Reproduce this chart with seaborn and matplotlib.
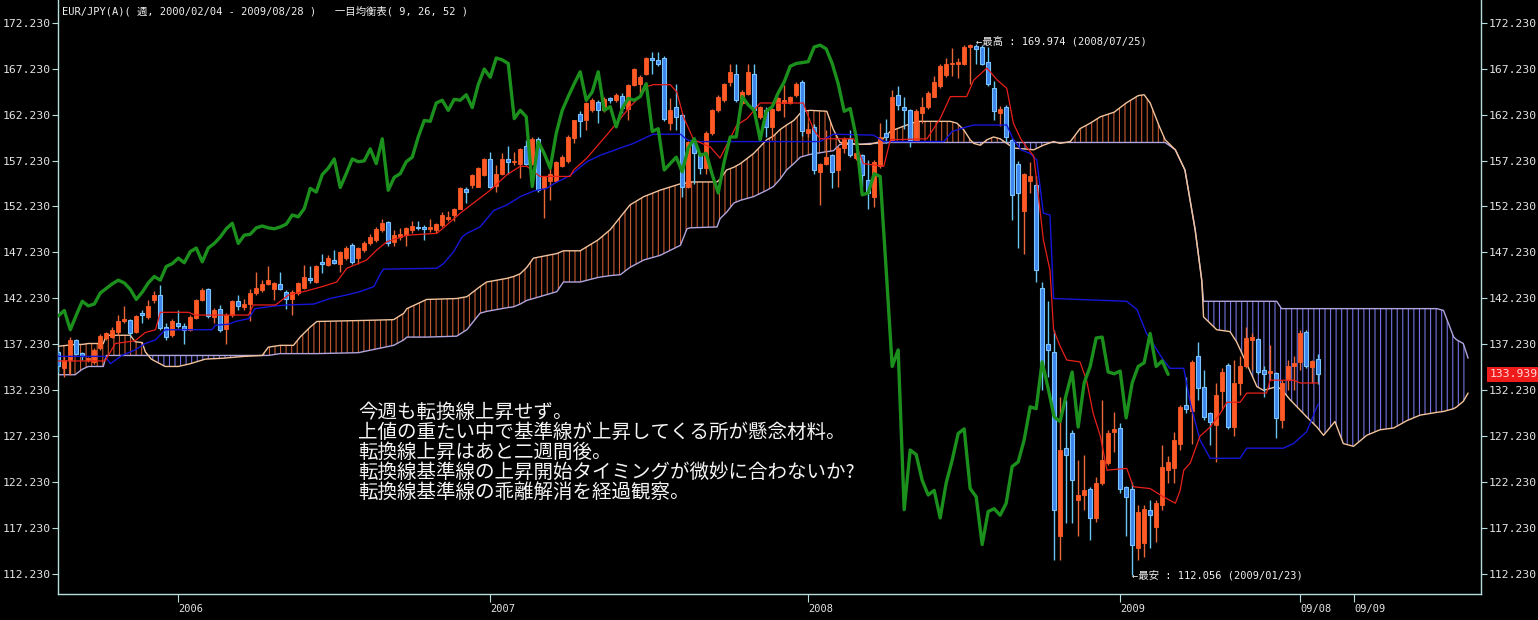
import numpy as np
import pandas as pd
import matplotlib
matplotlib.use("Agg")
import matplotlib.pyplot as plt
import matplotlib.transforms as mtransforms
import seaborn as sns

# weekly EUR/JPY candles, week 0 = 2005/08/19 ... week 210 = 2009/08/28
opens = [
    136.4, 134.6, 135.5, 137.7, 136.3, 135.5, 135.3, 136.8, 137.9, 138.0,
    138.6, 139.7, 139.9, 138.5, 140.6, 140.2, 142.0, 142.6, 139.1, 138.2,
    139.5, 139.2, 138.8, 140.1, 142.0, 143.2, 140.2, 141.1, 138.9, 140.4,
    141.9, 141.3, 141.6, 142.8, 143.1, 143.8, 143.2, 143.8, 142.9, 142.1,
    142.8, 143.3, 144.4, 144.0, 146.2, 145.9, 146.4, 146.0, 146.6, 148.0,
    146.6, 147.5, 148.2, 148.6, 149.7, 150.5, 148.4, 148.9, 149.1, 149.7,
    150.0, 150.0, 149.8, 149.7, 150.2, 150.9, 151.3, 152.0, 154.1, 154.6,
    154.4, 155.7, 157.4, 154.5, 155.8, 157.4, 157.1, 156.9, 158.8, 156.9,
    159.6, 154.2, 155.0, 155.0, 156.6, 157.2, 159.7, 162.3, 161.6, 162.7,
    163.6, 162.7, 164.0, 163.8, 164.3, 162.9, 165.5, 165.6, 166.7, 168.4,
    168.2, 168.4, 161.3, 163.1, 162.2, 154.4, 159.3, 158.0, 156.4, 160.2,
    162.7, 163.8, 165.8, 166.7, 163.5, 164.5, 166.7, 162.0, 162.7, 160.9,
    162.7, 163.5, 163.5, 164.4, 165.8, 160.2, 160.9, 156.0, 156.9, 157.8,
    156.2, 158.6, 159.6, 157.5, 157.8, 155.1, 153.3, 156.6, 160.2, 159.5,
    164.4, 163.1, 162.7, 159.5, 162.4, 163.1, 164.2, 165.3, 166.5, 167.7,
    167.8, 167.8, 169.6, 169.7, 169.6, 168.0, 165.1, 162.4, 163.1, 159.5,
    156.9, 151.7, 155.0, 154.6, 143.3, 137.3, 136.4, 116.3, 125.9, 127.5,
    120.3, 120.8, 121.5, 118.3, 122.1, 124.3, 127.7, 128.1, 121.7, 121.5,
    115.0, 115.6, 119.2, 117.3, 119.7, 123.5, 123.7, 126.4, 130.6, 129.9,
    135.9, 132.6, 129.7, 128.4, 132.1, 135.0, 128.2, 133.0, 134.8, 137.7,
    137.8, 134.4, 134.1, 134.1, 129.0, 133.3, 134.9, 135.3, 138.6, 134.7,
    135.6,
]
highs = [
    136.6, 135.9, 138.0, 137.8, 136.4, 135.8, 136.8, 138.3, 138.6, 139.1,
    140.4, 141.4, 140.0, 140.4, 140.9, 142.0, 143.0, 143.7, 139.5, 140.0,
    140.9, 139.5, 140.4, 142.2, 143.4, 143.3, 141.2, 141.5, 140.6, 142.0,
    142.6, 142.2, 143.2, 145.1, 144.2, 145.7, 144.0, 145.1, 143.1, 143.1,
    144.0, 145.8, 145.7, 145.9, 147.1, 146.9, 147.5, 147.4, 147.9, 148.2,
    147.8, 148.5, 149.2, 150.0, 150.9, 150.6, 149.7, 149.9, 150.0, 150.6,
    150.6, 150.2, 150.9, 150.4, 151.6, 151.7, 152.1, 154.4, 154.4, 155.8,
    156.5, 157.5, 158.2, 156.8, 158.0, 158.8, 158.2, 158.6, 159.5, 159.8,
    159.8, 155.6, 156.4, 157.2, 157.8, 160.0, 161.7, 162.6, 163.6, 164.0,
    163.8, 164.1, 164.2, 164.6, 164.6, 165.6, 167.3, 166.5, 168.5, 169.1,
    169.1, 168.6, 164.0, 165.6, 162.4, 159.4, 159.8, 158.1, 160.4, 162.9,
    164.4, 165.7, 167.8, 167.8, 164.9, 167.8, 167.8, 163.2, 163.1, 163.0,
    164.2, 165.5, 164.3, 165.8, 166.0, 161.3, 161.2, 157.0, 160.6, 157.9,
    158.8, 159.8, 160.6, 158.2, 157.9, 157.3, 157.3, 161.3, 161.8, 164.9,
    165.3, 164.2, 162.8, 162.8, 164.2, 164.8, 166.4, 167.8, 168.4, 169.5,
    168.4, 169.8, 169.9, 169.974, 169.8, 169.6, 165.9, 163.2, 163.3, 159.7,
    157.2, 155.9, 157.1, 155.5, 144.0, 141.9, 138.8, 131.5, 131.2, 127.9,
    124.6, 125.2, 121.7, 122.8, 131.2, 127.9, 129.8, 128.6, 121.8, 122.2,
    119.7, 119.7, 120.3, 120.3, 126.2, 125.0, 127.7, 130.6, 133.7, 135.5,
    137.5, 134.4, 129.8, 133.0, 134.6, 135.2, 135.5, 135.9, 139.1, 138.4,
    137.9, 134.8, 137.1, 134.2, 133.3, 135.5, 135.9, 138.8, 138.8, 135.5,
    136.2,
]
lows = [
    134.2, 133.7, 133.9, 136.0, 135.5, 135.3, 135.1, 136.6, 137.7, 137.9,
    138.2, 139.5, 138.0, 138.4, 139.5, 140.0, 141.7, 138.8, 137.7, 138.0,
    139.0, 137.3, 138.7, 140.0, 141.9, 140.1, 139.5, 138.6, 137.3, 140.2,
    141.0, 140.9, 139.7, 142.6, 142.9, 143.7, 142.0, 143.1, 141.1, 140.4,
    142.6, 143.2, 143.9, 143.9, 145.0, 145.7, 146.0, 145.1, 146.4, 146.0,
    146.0, 147.3, 148.0, 148.4, 149.5, 147.9, 147.9, 148.6, 147.9, 149.3,
    149.7, 148.6, 149.5, 149.3, 150.0, 150.6, 150.6, 151.9, 152.6, 154.2,
    154.3, 155.5, 154.2, 153.8, 155.7, 155.8, 156.8, 155.3, 156.7, 156.8,
    153.8, 151.0, 152.9, 154.9, 156.5, 157.0, 159.1, 159.8, 160.6, 162.5,
    161.3, 162.5, 163.5, 163.6, 162.4, 161.6, 165.3, 164.6, 166.5, 166.7,
    167.5, 161.5, 160.6, 160.6, 153.3, 154.2, 154.7, 155.8, 155.8, 160.0,
    162.5, 163.6, 165.3, 163.6, 163.3, 164.4, 162.4, 161.8, 159.8, 159.5,
    162.6, 162.0, 163.4, 164.2, 159.9, 159.8, 155.8, 152.4, 156.8, 154.2,
    154.4, 158.0, 157.6, 157.3, 154.4, 152.0, 152.2, 156.4, 159.1, 159.3,
    162.7, 160.7, 158.7, 159.3, 161.3, 162.9, 164.1, 165.1, 166.3, 166.4,
    166.2, 167.6, 165.6, 167.7, 167.6, 165.4, 161.6, 161.0, 159.3, 150.8,
    147.7, 147.1, 153.7, 144.0, 132.2, 133.7, 113.7, 113.7, 117.7, 117.7,
    116.3, 119.2, 115.9, 117.9, 121.9, 124.1, 125.5, 121.0, 116.3, 112.056,
    113.7, 114.0, 115.0, 115.7, 119.2, 122.1, 122.1, 125.7, 129.7, 126.4,
    131.1, 129.0, 126.2, 124.4, 130.1, 128.0, 127.2, 131.7, 134.6, 134.4,
    134.0, 131.5, 133.3, 127.0, 128.1, 132.2, 132.2, 134.4, 134.6, 133.0,
    132.9,
]
closes = [
    134.8, 135.5, 137.7, 136.2, 135.9, 135.7, 136.6, 138.1, 138.4, 138.8,
    139.8, 140.0, 138.4, 140.3, 140.4, 141.4, 142.6, 139.0, 138.0, 139.8,
    139.2, 138.8, 140.2, 142.0, 143.1, 140.3, 140.9, 138.8, 140.4, 141.9,
    141.4, 141.6, 142.8, 143.3, 143.8, 144.2, 143.9, 143.2, 142.1, 142.9,
    143.9, 144.6, 144.2, 145.7, 146.0, 146.6, 146.1, 147.3, 147.7, 146.2,
    147.7, 148.2, 148.9, 149.8, 150.4, 148.2, 149.1, 149.2, 149.9, 150.1,
    149.9, 149.8, 150.0, 150.3, 151.3, 151.1, 152.0, 154.2, 153.8, 155.7,
    156.4, 157.4, 154.3, 155.8, 157.4, 157.1, 157.2, 158.5, 156.9, 159.6,
    154.0, 155.4, 155.8, 157.1, 157.6, 159.8, 161.6, 161.5, 163.5, 163.8,
    162.7, 163.9, 163.8, 164.4, 163.0, 165.5, 167.2, 166.3, 168.4, 168.2,
    167.8, 161.8, 162.7, 162.0, 154.4, 159.3, 158.0, 156.4, 160.2, 162.7,
    164.2, 165.6, 166.9, 163.8, 164.7, 166.9, 162.7, 163.1, 160.9, 162.9,
    164.0, 163.8, 164.2, 165.6, 160.4, 160.7, 156.2, 156.9, 157.6, 156.0,
    158.6, 159.6, 157.8, 158.0, 155.7, 153.7, 157.1, 159.8, 159.8, 164.2,
    163.3, 162.7, 159.5, 162.6, 163.1, 164.6, 165.8, 167.5, 167.8, 167.9,
    168.0, 169.6, 169.8, 169.4, 167.8, 165.6, 162.6, 162.9, 159.8, 153.5,
    153.7, 155.8, 155.5, 145.3, 134.8, 136.6, 119.2, 125.7, 125.2, 122.4,
    120.8, 121.3, 118.3, 122.1, 124.6, 127.5, 128.0, 121.5, 120.6, 115.4,
    119.0, 119.3, 118.6, 119.9, 123.9, 124.4, 126.8, 130.4, 130.2, 135.3,
    132.4, 129.3, 128.8, 131.7, 134.2, 128.2, 133.0, 134.8, 137.9, 138.0,
    134.2, 134.0, 134.3, 129.2, 133.0, 134.8, 135.2, 138.4, 134.8, 135.4,
    133.939,
]

# 転換線 (9)
tenkan_week = [0, 7.8, 9.5, 12.8, 14.5, 16.2, 17, 21.7, 22.8, 31.7, 32.5, 36.2, 38.4, 41.2, 44,
               46.4, 48.1, 51.4, 53.1, 54.8, 58.1, 63.1, 64.2, 67, 69.2, 72, 74.8, 77, 78.1,
               80.3, 85.3, 85.9, 88.1, 91.4, 93.7, 95.3, 97, 98.1, 99.2, 102, 103.1, 104.2,
               105.9, 108.7, 110.3, 111.4, 113.1, 114.8, 117, 124.2, 124.8, 125.9, 127, 132.6,
               134.2, 137.6, 138.7, 144.8, 147, 148.7, 151.4, 152.6, 154.8, 156.5, 158.1, 159.2,
               160.5, 162.6, 163.7, 164.2, 165.3, 165.9, 167, 168.1, 170.3, 171.4, 172.5, 173.7,
               174.8, 178.1, 179.2, 182, 184.2, 186.2, 187, 187.6, 188.7, 190.3, 192, 193.7,
               194.8, 197, 198.1, 201.4, 202, 205.9, 207, 210]
tenkan_val = [135.4, 135.4, 137.3, 137.6, 138.5, 138.8, 140.7, 140.7, 140.4, 140.4, 141.5, 141.5,
              142.6, 143.0, 143.5, 144.0, 145.5, 146.4, 147.5, 148.4, 149.1, 149.3, 149.9, 151.5,
              152.6, 154.0, 155.7, 156.6, 156.6, 155.5, 155.5, 156.2, 157.5, 160.0, 161.8, 163.1,
              164.2, 165.3, 165.5, 165.5, 164.7, 162.0, 159.5, 158.7, 157.5, 158.9, 161.1, 161.8,
              163.5, 163.5, 162.4, 160.6, 159.6, 159.6, 156.9, 156.6, 159.5, 159.6, 161.8, 164.2,
              164.2, 166.0, 167.3, 166.0, 165.1, 161.3, 159.5, 157.7, 151.5, 148.6, 145.3, 138.8,
              137.0, 135.5, 135.3, 133.3, 129.7, 127.2, 123.5, 123.7, 121.7, 121.5, 120.6, 119.9,
              121.3, 123.5, 124.3, 127.2, 128.2, 129.7, 130.9, 130.9, 131.9, 131.9, 133.3, 133.3,
              133.0, 133.0]

# 基準線 (26)
kijun_week = [0, 7.8, 8.7, 10.6, 12.8, 14.5, 16.2, 17.8, 25.6, 26.2, 28.4, 29.5, 31.7, 32.8, 36.2,
              38.4, 42.6, 45.3, 48.1, 50.3, 52.6, 53.7, 54.2, 63.1, 64.2, 65.9, 67.3, 68.1, 70.3,
              72.6, 74.8, 77, 79.2, 81.4, 82.6, 85.3, 88.1, 90.3, 93.7, 95.9, 98.1, 99.2, 103.7,
              104.8, 105.9, 127, 129.2, 135.9, 137.6, 147.6, 149, 151.4, 152.6, 158.1, 159.2,
              160.5, 162, 163.1, 164.2, 165.3, 165.9, 178.1, 179.8, 181.4, 184.2, 185.3, 187.6,
              188.7, 190.3, 192, 197, 198.1, 204.2, 205.9, 208.1, 209.8, 210]
kijun_val = [135.9, 135.9, 135.1, 136.0, 136.6, 137.3, 137.7, 138.8, 138.8, 139.3, 139.4, 139.7,
             140.0, 141.1, 141.4, 141.5, 141.6, 142.2, 142.6, 142.95, 143.5, 144.9, 145.4, 145.5,
             146.0, 147.3, 148.9, 149.3, 150.0, 151.8, 152.4, 153.3, 153.9, 154.2, 154.7, 155.6,
             157.1, 157.8, 158.6, 159.1, 159.8, 160.1, 160.1, 159.5, 159.3, 159.3, 160.1, 160.0,
             159.3, 159.3, 160.4, 160.9, 161.1, 161.1, 159.5, 158.4, 158.0, 157.3, 151.5, 151.3,
             142.2, 141.9, 141.0, 138.4, 135.5, 134.6, 134.6, 130.8, 126.8, 124.8, 124.8, 125.9,
             125.9, 126.4, 127.7, 130.4, 130.7]

# 先行スパン1 / 2 (already shifted forward) on a shared week grid
span_week = [0, 2.8, 4, 5, 7.5, 8, 12, 12.8, 14, 14.5, 15.5, 17.8, 20, 22, 24.5, 27.5, 31, 34, 35,
             37, 39.2, 40.3, 42, 43.1, 50, 55.9, 57.6, 58.1, 61.4, 66.4, 68.1, 70.3, 71.4, 74.8,
             75.9, 77, 78.1, 79.2, 83.1, 84.2, 87, 90, 92, 93.7, 95.3, 97.6, 100.3, 103.7, 104.8,
             105.3, 109.8, 110.3, 111.4, 112.6, 113.7, 115.9, 118.1, 119.2, 120.3, 121.4, 122.6,
             123.7, 124.2, 125.3, 128.1, 129.2, 130.3, 133.7, 135.3, 137, 138.7, 139.8, 143.1,
             148.7, 149.8, 150.9, 152, 152.6, 153.7, 154.8, 155.9, 157, 158.1, 159.2, 162.6,
             164.2, 165.9, 167, 168.7, 170.3, 172, 173.7, 176, 178, 180, 181, 182, 183.5, 184.5,
             186.2, 187.8, 189.5, 190.6, 190.9, 193.1, 195.3, 196.4, 198.1, 199.8, 200.9, 203.1,
             203.9, 205.3, 208.1, 209.8, 210.9, 212.8, 214.2, 215.9, 218.1, 220.3, 222.6, 224.8,
             227, 229.8, 230.9, 232.6, 233.1, 234.2, 235]
span_a = [137.0, 137.2, 137.2, 137.3, 137.3, 138.2, 138.2, 137.5, 137.4, 136.4, 135.6, 134.8, 134.8,
          135.1, 135.6, 135.7, 135.9, 136.0, 136.9, 137.1, 137.1, 138.0, 139.1, 139.7, 139.8,
          139.9, 140.6, 141.1, 142.1, 142.2, 142.4, 143.5, 144.0, 144.4, 144.6, 144.9, 145.6,
          146.6, 147.1, 147.4, 147.4, 148.6, 149.7, 151.1, 152.4, 153.3, 154.0, 154.7, 154.8,
          154.9, 154.9, 155.2, 156.2, 156.5, 156.9, 158.0, 159.5, 159.9, 160.6, 161.1, 161.6,
          162.4, 162.6, 162.7, 162.6, 160.6, 159.2, 159.0, 159.0, 159.3, 160.4, 160.7, 161.5,
          161.5, 161.3, 160.6, 159.5, 159.1, 158.9, 159.5, 159.8, 159.6, 159.1, 158.6, 158.4,
          158.9, 159.3, 159.1, 159.3, 160.7, 161.3, 162.0, 162.5, 163.5, 164.3, 164.4, 163.5,
          161.0, 159.5, 158.4, 156.2, 149.7, 144.2, 140.2, 138.8, 138.6, 137.5, 135.1, 132.6,
          132.2, 132.6, 132.3, 131.2, 129.3, 128.2, 127.3, 128.8, 126.4, 126.1, 127.3, 127.9,
          128.1, 128.9, 129.5, 129.8, 129.9, 130.2, 130.4, 131.0, 131.9]
span_b = [133.9, 133.9, 134.5, 134.8, 134.8, 136.0, 136.0, 136.0, 136.0, 136.0, 136.0, 136.0, 136.0,
          136.0, 136.0, 136.0, 136.0, 136.0, 136.0, 136.2, 136.2, 136.2, 136.2, 136.2, 136.3,
          137.1, 137.7, 138.0, 138.0, 138.1, 138.8, 140.6, 140.8, 141.2, 141.3, 141.6, 142.0,
          142.2, 142.95, 144.0, 144.0, 144.5, 144.7, 144.8, 145.6, 146.4, 146.9, 148.0, 149.8,
          149.9, 150.0, 150.9, 151.6, 152.6, 152.9, 153.3, 154.0, 154.4, 155.2, 156.2, 156.9,
          157.6, 157.7, 157.9, 158.2, 158.3, 159.0, 159.0, 159.1, 159.1, 159.2, 159.2, 159.2,
          159.2, 159.2, 159.2, 159.2, 159.2, 159.2, 159.2, 159.2, 159.2, 159.2, 159.2, 159.2,
          159.2, 159.2, 159.2, 159.2, 159.2, 159.2, 159.2, 159.2, 159.2, 159.2, 159.2, 159.2,
          159.2, 159.2, 158.4, 156.2, 149.7, 144.2, 141.9, 141.9, 141.9, 141.9, 141.9, 141.9,
          141.9, 141.9, 141.1, 141.1, 141.1, 141.1, 141.1, 141.1, 141.1, 141.1, 141.1, 141.1,
          141.1, 141.1, 141.1, 141.1, 140.9, 138.0, 137.7, 137.3, 135.7]

CHIKOU_SHIFT = 25

tick_weeks = [20, 72, 125, 177, 207, 216]
tick_labels = ["2006", "2007", "2008", "2009", "09/08", "09/09"]
price_ticks = [112.23 + 5 * k for k in range(13)]

title = "EUR/JPY(A)( 週, 2000/02/04 - 2009/08/28 )   一目均衡表( 9, 26, 52 )"
memo = [
    "今週も転換線上昇せず。",
    "上値の重たい中で基準線が上昇してくる所が懸念材料。",
    "転換線上昇はあと二週間後。",
    "転換線基準線の上昇開始タイミングが微妙に合わないか?",
    "転換線基準線の乖離解消を経過観察。",
]

W, H = 1538, 620
MONO = ["DejaVu Sans Mono", "Noto Sans CJK JP"]


def main():
    sns.set_theme(style="dark", rc={"axes.facecolor": "black", "figure.facecolor": "black"})
    plt.rcParams["font.family"] = ["Noto Sans CJK JP", "DejaVu Sans"]
    plt.rcParams["hatch.linewidth"] = 0.8

    fig = plt.figure(figsize=(W / 100, H / 100), dpi=100)
    ax = fig.add_axes([58 / W, 26 / H, 1423 / W, 594 / H])
    ax.set_facecolor("black")
    ax.grid(False)

    # cloud
    a = np.array(span_a)
    b = np.array(span_b)
    ax.fill_between(span_week, a, b, where=a >= b, interpolate=True, facecolor="none",
                    edgecolor="#c65a30", hatch="|||", linewidth=0, zorder=1)
    ax.fill_between(span_week, a, b, where=a < b, interpolate=True, facecolor="none",
                    edgecolor="#7272e0", hatch="|||", linewidth=0, zorder=1)
    sns.lineplot(x=span_week, y=span_b, ax=ax, color="#b0a4dc", linewidth=1.0,
                 estimator=None, sort=False, zorder=2)
    sns.lineplot(x=span_week, y=span_a, ax=ax, color="#f2c39c", linewidth=1.0,
                 estimator=None, sort=False, zorder=2)

    # candles
    df = pd.DataFrame({"open": opens, "high": highs, "low": lows, "close": closes})
    df["week"] = np.arange(len(df))
    up = df[df["close"] >= df["open"]]
    dn = df[df["close"] < df["open"]]
    ax.vlines(up["week"], up["low"], up["high"], color="#e8683a", linewidth=1.0, zorder=3)
    ax.vlines(dn["week"], dn["low"], dn["high"], color="#68c6f0", linewidth=1.0, zorder=3)
    ax.bar(up["week"], up["close"] - up["open"], bottom=up["open"], width=0.7,
           color="#ff5a26", edgecolor="#ff5a26", linewidth=0.6, zorder=3)
    ax.bar(dn["week"], dn["open"] - dn["close"], bottom=dn["close"], width=0.7,
           color="#3f86ec", edgecolor="#7cc4ff", linewidth=0.8, zorder=3)

    # lines
    sns.lineplot(x=kijun_week, y=kijun_val, ax=ax, color="#1616d8", linewidth=1.0,
                 estimator=None, sort=False, zorder=4)
    sns.lineplot(x=tenkan_week, y=tenkan_val, ax=ax, color="#e8201a", linewidth=0.9,
                 estimator=None, sort=False, zorder=4)
    chikou = df.iloc[CHIKOU_SHIFT:]
    sns.lineplot(x=chikou["week"] - CHIKOU_SHIFT, y=chikou["close"], ax=ax, color="#1c901c",
                 linewidth=2.4, estimator=None, sort=False, zorder=5)

    ax.set_xlim(-0.05, 237.15)
    ax.set_ylim(174.72 - 594 / 9.18, 174.72)
    ax.set_xlabel("")
    ax.set_ylabel("")

    edge = "#b6dcdc"
    for side in ["left", "right", "bottom"]:
        ax.spines[side].set_visible(True)
        ax.spines[side].set_color(edge)
        ax.spines[side].set_linewidth(1.0)
    ax.spines["top"].set_visible(False)

    ax.set_yticks(price_ticks)
    ax.set_yticklabels([f"{v:.3f}" for v in price_ticks])
    ax.tick_params(axis="y", left=True, right=True, labelleft=True, labelright=True,
                   direction="out", length=4, width=0.8, color=edge, labelcolor="#e4e4e4",
                   labelsize=8.2, pad=1.5)
    ax.set_xticks(tick_weeks)
    ax.set_xticklabels(tick_labels)
    ax.tick_params(axis="x", bottom=True, direction="out", length=6, width=0.8, color=edge,
                   labelcolor="#e4e4e4", labelsize=7.5, pad=1)
    for lbl in ax.get_xticklabels():
        lbl.set_horizontalalignment("left")
        lbl.set_family(MONO)
    for lbl in ax.get_yticklabels():
        lbl.set_family(MONO)

    # last price marker on the right axis
    trans = mtransforms.blended_transform_factory(ax.transAxes, ax.transData)
    ax.text(1.0062, closes[-1], f"{closes[-1]:.3f}", transform=trans, ha="left", va="center",
            fontsize=8.2, family=MONO, color="#ffd8d8", zorder=6,
            bbox=dict(boxstyle="square,pad=0.22", fc="#f01c1c", ec="none"))

    # high / low notes
    hi = int(np.argmax(highs))
    lo = int(np.argmin(lows))
    ax.text(hi, highs[hi] + 0.25, f"←最高 : {highs[hi]:.3f} (2008/07/25)", ha="left", va="center",
            fontsize=7.5, family=MONO, color="#f0f0f0", zorder=6)
    ax.text(lo, lows[lo], f"←最安 : {lows[lo]:.3f} (2009/01/23)", ha="left", va="center",
            fontsize=7.5, family=MONO, color="#f0f0f0", zorder=6)

    fig.text(62 / W, 1 - 11 / H, title, ha="left", va="center", fontsize=7.5, family=MONO,
             color="#f0f0f0")
    for k, line in enumerate(memo):
        fig.text(358 / W, 1 - (412 + 20.2 * k) / H, line, ha="left", va="center", fontsize=14,
                 family=["Noto Sans CJK JP", "DejaVu Sans"], color="#f4f4f4")

    fig.savefig("out.png", dpi=100, facecolor="black")


if __name__ == "__main__":
    main()
